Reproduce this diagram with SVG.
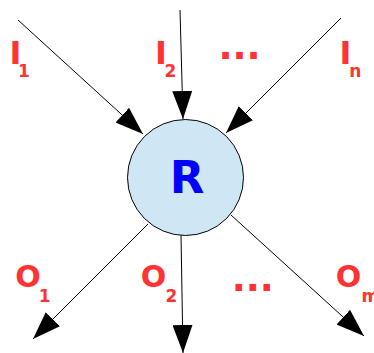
<svg xmlns="http://www.w3.org/2000/svg" width="374" height="353" viewBox="0 0 374 353">
<defs>
<style>
.lbl{font-family:"DejaVu Sans",sans-serif;font-weight:bold;fill:#ff3333}
.big{font-size:32px}
.o{font-size:30px}
.sub{font-size:17px}
.dots{font-size:37px}
.conn line{stroke:#000;stroke-width:1;fill:none;marker-end:url(#ah)}
</style>
<marker id="ah" markerUnits="userSpaceOnUse" markerWidth="28" markerHeight="20" refX="28" refY="10" orient="auto" viewBox="0 0 28 20">
<path d="M0,0 L28,10 L0,20 Z" fill="#000"/>
</marker>
</defs>
<rect width="374" height="353" fill="#fff"/>
<g id="connectors" class="conn">
<line x1="18" y1="20" x2="143" y2="134"/>
<line x1="180" y1="10" x2="183" y2="119"/>
<line x1="341" y1="18" x2="226" y2="133"/>
<line x1="148" y1="224" x2="33" y2="339"/>
<line x1="181" y1="235" x2="183" y2="353"/>
<line x1="231" y1="215" x2="364" y2="336"/>
</g>
<g id="R">
<circle cx="185.5" cy="177.5" r="58" fill="#cfe7f5" stroke="#000" stroke-width="1"/>
<text x="187" y="192.7" text-anchor="middle" font-family="DejaVu Sans, sans-serif" font-weight="bold" font-size="45" fill="#0000ff">R</text>
</g>
<g id="I1"><text class="lbl big" x="9.5" y="64">I</text><text class="lbl sub" x="18" y="76.7">1</text></g>
<g id="I2"><text class="lbl big" x="155" y="64">I</text><text class="lbl sub" x="164.5" y="77">2</text></g>
<g id="In"><text class="lbl big" x="339.5" y="64">I</text><text class="lbl sub" x="349.3" y="76.7">n</text></g>
<g id="dotsTop"><text class="lbl dots" x="218.4" y="59">...</text></g>
<g id="O1"><text class="lbl o" x="15.2" y="287">O</text><text class="lbl sub" x="38.8" y="301.7">1</text></g>
<g id="O2"><text class="lbl o" x="140.8" y="287">O</text><text class="lbl sub" x="165.5" y="302">2</text></g>
<g id="Om"><text class="lbl o" x="335.8" y="287">O</text><text class="lbl sub" x="361.5" y="301.7">m</text></g>
<g id="dotsBottom"><text class="lbl dots" x="231.7" y="290.7">...</text></g>
</svg>
